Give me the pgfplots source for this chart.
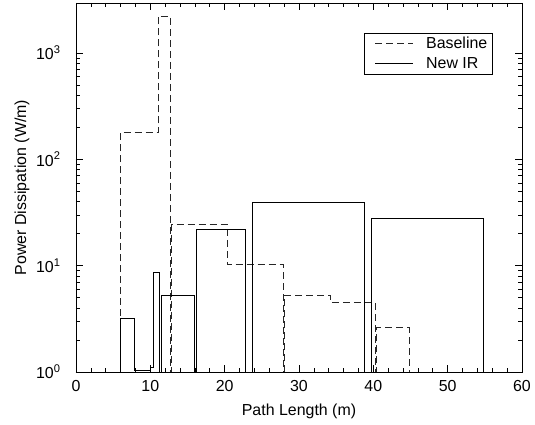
\documentclass[border=0pt]{standalone}
\usepackage{fontspec}
\setmainfont{Liberation Sans}
\usepackage{pgfplots}
\pgfplotsset{compat=1.18}
\begin{document}
\begin{tikzpicture}[font=\fontsize{16}{19}\selectfont]
\path[use as bounding box] (-76bp,-53bp) rectangle (459bp,372bp);
\begin{axis}[
  at={(0,0)}, anchor=south west,
  scale only axis,
  width=446bp, height=369bp,
  ymode=log,
  xmin=0, xmax=60, ymin=1, ymax=2950,
  xtick={0,10,20,30,40,50,60},
  minor x tick num=4,
  ytick={1,10,100,1000},
  yticklabels={10\textsuperscript{0},10\textsuperscript{1},10\textsuperscript{2},10\textsuperscript{3}},
  /pgf/number format/assume math mode=true,
  tick align=inside,
  major tick length=7bp, minor tick length=4bp,
  tick style={black, line width=0.6pt},
  axis line style={line width=0.8pt},
  every tick label/.append style={font=\fontsize{16}{19}\selectfont},
  yticklabel style={xshift=-12bp},
  xticklabel style={yshift=-5bp},
  xlabel={Path Length (m)},
  ylabel={Power Dissipation (W/m)},
  every axis x label/.style={at={(axis description cs:0.5,-0.107)}, anchor=center, font=\fontsize{16}{19}\selectfont},
  every axis y label/.style={at={(axis description cs:-0.121,0.5)}, rotate=90, anchor=center, font=\fontsize{16}{19}\selectfont},
  legend style={at={(0.933,0.919)}, anchor=north east, draw=black, line width=0.6pt,
    font=\fontsize{16}{19}\selectfont, inner xsep=3bp, inner ysep=1.5bp, row sep=2bp,
    nodes={inner sep=1.5bp, text height=12bp, text depth=3bp}},
  legend cell align=left,
  legend image code/.code={\path (0bp,0bp) (57bp,0bp); \draw[#1] (8bp,0bp) -- (46bp,0bp);},
]
\addplot[black!85, line width=0.8pt, dash pattern=on 7bp off 4bp] coordinates {
(5.92,0.5) (5.92,178) (11.08,178) (11.08,2230) (12.65,2230) (12.65,0.5)
(12.88,0.5) (12.88,24.2) (20.4,24.2) (20.4,10.2) (27.9,10.2) (27.9,0.5)
(28.1,0.5) (28.1,5.3) (34.2,5.3) (34.2,4.5) (40.24,4.5) (40.24,0.5)
(40.47,0.5) (40.47,2.6) (44.8,2.6) (44.8,0.5)
};
\addlegendentry{Baseline}
\addplot[black, line width=0.8pt] coordinates {
(5.92,0.5) (5.92,3.2) (7.9,3.2) (7.9,1.03) (9.96,1.03) (9.96,1.1) (10.4,1.1)
(10.4,8.7) (11.25,8.7) (11.25,0.5) (11.5,0.5) (11.5,5.3) (15.9,5.3) (15.9,0.5)
(16.24,0.5) (16.24,21.7) (22.84,21.7) (22.84,0.5) (23.78,0.5) (23.78,39.5)
(38.8,39.5) (38.8,0.5) (39.8,0.5) (39.8,27.9) (54.8,27.9) (54.8,0.5)
};
\addlegendentry{New IR}
\end{axis}
\end{tikzpicture}
\end{document}
